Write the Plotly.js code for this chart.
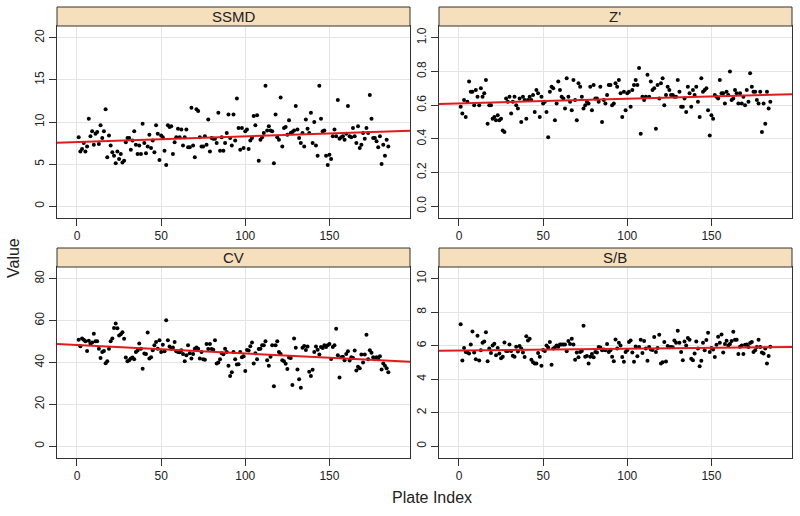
<!DOCTYPE html>
<html><head>
<script src="https://cdn.plot.ly/plotly-3.0.1.min.js"></script>
</head><body style="margin:0;background:#fff">
<div id="chart" style="width:800px;height:516px"></div>
<script>
const panelNames = ["SSMD", "Z'", "CV", "S/B"];
const xTicks = [0, 50, 100, 150];
const ssmdTicks = [0, 5, 10, 15, 20];
const zTicks = [0, 0.2, 0.4, 0.6, 0.8, 1.0];
const cvTicks = [0, 20, 40, 60, 80];
const sbTicks = [0, 2, 4, 6, 8, 10];

const ssmd = [8.2,6.5,6.8,7.5,6.5,7.1,10.4,8.3,8.9,7.3,
8.6,8.8,7.4,9.6,8.1,8.9,11.5,5.8,8.4,7.2,
6.4,6.0,5.1,6.5,5.6,6.2,5.2,5.4,7.6,8.1,
8.1,6.7,7.8,8.9,7.3,6.2,7.2,6.2,9.8,7.5,
6.3,7.1,8.5,6.9,7.8,6.4,9.6,8.6,5.5,8.4,
8.2,6.6,4.9,9.6,9.4,9.5,6.2,7.6,8.2,9.2,
8.2,9.1,7.2,8.2,9.1,7.0,7.0,11.7,7.2,5.8,
11.5,11.3,8.2,7.1,7.1,8.3,7.3,10.3,6.5,8.1,
8.0,8.0,7.5,11.1,6.6,8.2,6.6,7.5,8.7,10.9,
8.1,7.2,10.9,7.8,12.8,9.3,6.7,9.3,6.9,8.9,
9.1,6.8,7.8,8.1,10.7,9.6,10.8,5.4,7.9,8.2,
8.7,14.3,9.0,9.5,9.0,8.9,5.1,10.9,8.2,7.9,
12.9,7.1,9.3,9.4,8.5,10.2,8.7,8.8,9.0,11.9,
9.1,8.1,7.5,8.7,7.1,10.3,9.2,8.7,11.1,7.5,
10.0,7.2,6.0,14.3,10.4,8.9,9.0,6.0,4.9,6.1,
5.6,8.3,9.1,8.3,12.6,8.0,8.2,8.3,7.9,8.6,
11.9,8.3,8.2,9.3,8.3,7.5,9.5,6.9,7.3,8.7,
8.0,9.3,8.7,13.2,10.4,8.1,8.1,7.7,7.0,8.3,
5.0,7.3,6.0,7.9,7.1];

const zprime = [0.59,0.55,0.63,0.53,0.62,0.74,0.68,0.68,0.60,0.69,
0.65,0.60,0.70,0.65,0.67,0.75,0.49,0.60,0.60,0.52,
0.53,0.51,0.54,0.51,0.52,0.45,0.44,0.64,0.62,0.65,
0.55,0.62,0.65,0.60,0.58,0.64,0.50,0.65,0.63,0.52,
0.63,0.65,0.63,0.66,0.56,0.69,0.67,0.53,0.65,0.61,
0.62,0.56,0.41,0.68,0.71,0.70,0.51,0.61,0.74,0.69,
0.65,0.64,0.58,0.76,0.65,0.62,0.57,0.75,0.63,0.51,
0.73,0.71,0.65,0.58,0.60,0.62,0.61,0.71,0.57,0.72,
0.64,0.64,0.62,0.71,0.50,0.63,0.61,0.66,0.72,0.72,
0.60,0.61,0.73,0.71,0.75,0.67,0.53,0.68,0.57,0.67,
0.68,0.59,0.69,0.72,0.75,0.72,0.82,0.43,0.65,0.63,
0.65,0.78,0.65,0.74,0.69,0.70,0.46,0.72,0.64,0.73,
0.76,0.60,0.66,0.71,0.69,0.66,0.66,0.65,0.65,0.75,
0.68,0.59,0.59,0.64,0.56,0.71,0.67,0.59,0.69,0.66,
0.71,0.62,0.53,0.76,0.68,0.69,0.70,0.57,0.42,0.54,
0.52,0.66,0.65,0.64,0.75,0.67,0.67,0.61,0.68,0.66,
0.80,0.63,0.64,0.69,0.67,0.61,0.67,0.61,0.65,0.60,
0.69,0.62,0.79,0.71,0.68,0.68,0.63,0.61,0.68,0.44,
0.61,0.49,0.68,0.58,0.62];

const cv = [50.9,47.7,51.5,50.9,50.1,45.5,50.4,49.0,49.6,53.7,
50.2,50.1,46.6,42.2,45.0,45.5,39.7,40.6,46.6,50.2,
51.5,56.5,58.6,56.4,52.9,53.5,54.5,51.3,42.4,40.6,
41.1,41.9,42.4,41.6,45.0,45.7,49.1,46.6,37.0,44.3,
44.1,54.3,41.9,42.5,45.8,48.2,49.8,46.6,50.6,45.0,
48.5,45.4,60.2,50.6,47.6,46.6,47.2,49.8,45.4,45.0,
44.9,45.8,44.1,40.6,43.5,48.2,44.4,41.9,44.1,46.6,
47.2,46.6,41.9,45.0,41.6,41.3,48.8,46.5,48.8,46.5,
46.1,50.6,39.5,40.0,41.6,44.4,43.9,46.6,45.0,38.4,
33.5,35.3,45.0,41.6,39.1,39.2,45.0,42.5,43.0,35.9,
46.0,45.7,47.7,49.6,39.5,44.4,41.6,46.5,46.6,48.2,
48.2,50.2,41.1,38.4,42.7,48.2,28.7,48.2,50.1,45.0,
44.1,41.1,40.6,39.4,36.9,42.4,42.2,29.3,51.5,47.1,
36.7,32.0,28.0,47.1,47.9,46.0,47.6,35.6,33.5,36.5,
45.0,47.6,46.1,43.8,47.4,46.9,48.2,47.4,48.2,48.8,
41.7,47.4,48.2,56.1,43.5,32.8,42.5,42.7,41.1,44.1,
45.4,40.9,42.5,42.2,45.7,36.2,38.0,37.3,43.8,40.0,
43.8,53.2,41.6,45.8,44.7,42.5,41.6,42.5,41.6,43.0,
36.7,39.5,38.4,37.3,35.3];

const sb = [7.28,5.12,5.87,5.63,5.59,5.53,6.08,6.85,5.59,5.20,
6.59,5.12,5.73,6.18,6.26,6.81,5.08,5.83,5.57,6.02,
6.12,5.43,5.87,5.53,5.26,5.35,6.20,5.69,5.69,6.08,
5.69,5.41,5.35,5.94,5.65,5.98,5.83,5.59,5.33,6.57,
6.32,6.42,5.16,5.02,4.94,4.94,5.57,5.35,4.80,5.75,
5.69,6.02,5.89,6.22,4.86,5.83,5.89,6.02,5.94,6.08,
6.08,6.08,6.08,5.67,6.28,6.10,6.42,6.08,5.16,5.59,
5.31,5.63,5.69,7.20,5.35,5.39,4.94,5.35,5.51,5.31,
5.63,5.59,5.93,5.89,5.73,5.77,5.73,6.10,5.63,5.73,
5.35,5.08,6.38,5.83,6.18,6.02,5.33,5.04,5.63,5.73,
6.22,6.32,5.59,5.04,5.96,5.37,5.93,6.36,5.57,6.28,
5.83,5.10,5.93,5.77,5.75,6.52,5.63,5.87,6.65,4.94,
5.02,6.22,5.06,5.98,5.91,5.93,5.91,6.32,6.18,6.89,
6.18,5.63,5.14,6.26,6.02,6.46,6.36,5.22,5.14,5.53,
6.26,5.83,4.78,5.10,6.18,5.73,6.34,6.77,5.63,5.87,
5.77,5.33,6.06,6.54,6.18,6.67,5.59,6.10,6.30,6.02,
6.10,6.28,6.83,6.36,6.36,5.51,5.94,6.02,5.51,6.06,
6.08,5.93,6.16,6.22,5.63,5.73,5.93,6.36,5.93,5.59,
5.53,5.83,4.94,5.39,5.94];

const series = [ssmd, zprime, cv, sb];
const yTicks = [ssmdTicks, zTicks, cvTicks, sbTicks];
const yLims = [[0, 20], [0, 1], [0, 80], [0, 10]];

function ext(lim) { const d = (lim[1] - lim[0]) * 0.07; return [lim[0] - d, lim[1] + d]; }

const n = ssmd.length;
const xr = ext([1, n]);

// panel geometry (paper coords)
const W = 800, H = 516;
const colX = [[57 / W, 410 / W], [439 / W, 792 / W]];
const rowY = [[1 - 218 / H, 1 - 26 / H], [1 - 458 / H, 1 - 267 / H]];
const stripY = [[1 - 26 / H, 1 - 7 / H], [1 - 267 / H, 1 - 248 / H]];

const traces = [], shapes = [], annotations = [];
const layout = {
  width: 800, height: 516,
  margin: {l: 0, r: 0, t: 0, b: 0},
  paper_bgcolor: '#ffffff', plot_bgcolor: '#ffffff',
  showlegend: false,
  font: {family: 'Liberation Sans, Arial, sans-serif', color: '#222'}
};

series.forEach((ys, i) => {
  const col = i % 2, row = Math.floor(i / 2);
  const sfx = i === 0 ? '' : String(i + 1);
  const xs = ys.map((_, k) => k + 1);
  // least squares fit
  const mx = xs.reduce((a, b) => a + b, 0) / xs.length;
  const my = ys.reduce((a, b) => a + b, 0) / ys.length;
  let sxy = 0, sxx = 0;
  xs.forEach((x, k) => { sxy += (x - mx) * (ys[k] - my); sxx += (x - mx) * (x - mx); });
  const b = sxy / sxx, a = my - b * mx;
  traces.push({
    type: 'scatter', mode: 'markers', x: xs, y: ys,
    xaxis: 'x' + sfx, yaxis: 'y' + sfx,
    marker: {color: '#000', size: 4}, hoverinfo: 'skip'
  });
  traces.push({
    type: 'scatter', mode: 'lines', x: [xr[0], xr[1]], y: [a + b * xr[0], a + b * xr[1]],
    xaxis: 'x' + sfx, yaxis: 'y' + sfx,
    line: {color: '#e31a1c', width: 2}, hoverinfo: 'skip'
  });
  const common = {
    ticks: 'outside', ticklen: 7, tickcolor: '#333', tickwidth: 1,
    showline: true, mirror: true, linecolor: '#333', linewidth: 1,
    showgrid: true, gridcolor: '#e4e4e4', gridwidth: 1, zeroline: false,
    tickfont: {size: 12, color: '#222'}, fixedrange: true
  };
  layout['xaxis' + sfx] = Object.assign({}, common, {
    domain: colX[col], range: xr, tickvals: xTicks, anchor: 'y' + sfx
  });
  layout['yaxis' + sfx] = Object.assign({}, common, {
    domain: rowY[row], range: ext(yLims[i]), tickvals: yTicks[i], anchor: 'x' + sfx,
    tickangle: -90, tickformat: i === 1 ? '.1f' : ''
  });
  shapes.push({
    type: 'rect', xref: 'paper', yref: 'paper',
    x0: colX[col][0], x1: colX[col][1], y0: stripY[row][0], y1: stripY[row][1],
    fillcolor: '#f6dfbc', line: {color: '#333', width: 1}, layer: 'above'
  });
  annotations.push({
    xref: 'paper', yref: 'paper', x: (colX[col][0] + colX[col][1]) / 2,
    y: (stripY[row][0] + stripY[row][1]) / 2, text: panelNames[i], showarrow: false,
    font: {size: 15, color: '#222'}, xanchor: 'center', yanchor: 'middle'
  });
});

annotations.push({
  xref: 'paper', yref: 'paper', x: 432 / W, y: 1 - 497 / H, text: 'Plate Index',
  showarrow: false, font: {size: 16, color: '#222'}, xanchor: 'center', yanchor: 'middle'
});
annotations.push({
  xref: 'paper', yref: 'paper', x: 13 / W, y: 1 - 258 / H, text: 'Value', textangle: -90,
  showarrow: false, font: {size: 16, color: '#222'}, xanchor: 'center', yanchor: 'middle'
});

layout.shapes = shapes;
layout.annotations = annotations;

Plotly.newPlot('chart', traces, layout, {staticPlot: true, displayModeBar: false});
</script>
</body></html>
